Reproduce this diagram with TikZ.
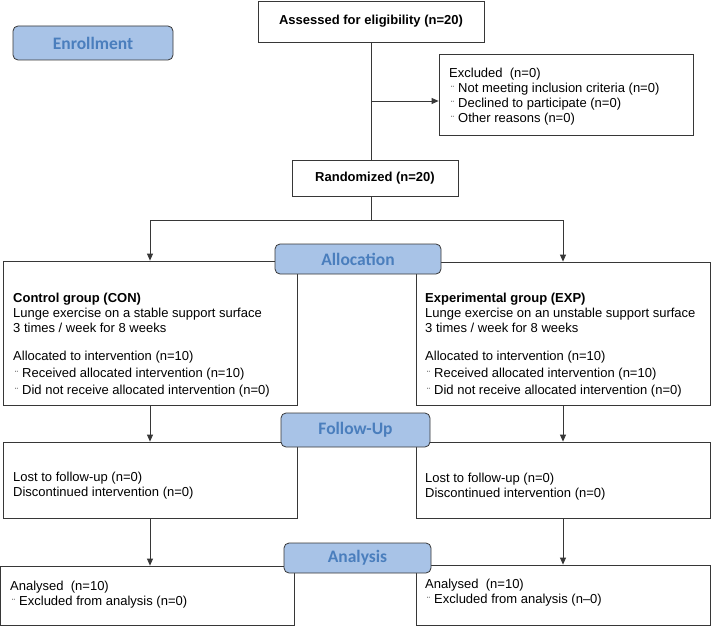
\documentclass[tikz,border=0pt]{standalone}
\usepackage{fontspec}
\setmainfont{Liberation Sans}
\newfontfamily\phasefont{Carlito}
\usetikzlibrary{arrows.meta,positioning,calc}
\definecolor{phfill}{RGB}{168,195,231}
\definecolor{phtext}{RGB}{74,126,189}
\definecolor{boxline}{RGB}{55,55,55}
\newcommand{\dotbul}{\hspace*{2pt}\makebox[7pt][l]{\fontsize{9}{9}\selectfont ¨}}
\tikzset{
  fbox/.style={draw=boxline, line width=0.8pt, inner sep=0pt, font=\fontsize{13}{15}\selectfont},
  txt/.style={anchor=north west, inner sep=0pt, align=left, font=\fontsize{13}{15}\selectfont},
  phase/.style={draw=boxline, line width=0.8pt, fill=phfill, rounded corners=5pt, text=phtext,
                font=\phasefont\fontsize{17.5}{20}\selectfont\bfseries, inner sep=0pt},
  conn/.style={draw=boxline, line width=0.8pt},
  arr/.style={conn, -{Triangle[length=7pt,width=6pt]}},
}
\begin{document}
\begin{tikzpicture}[x=1pt, y=-1pt]
\useasboundingbox (0,0) rectangle (712,626);
% Enrollment
\node[fbox, minimum width=226pt, minimum height=41pt, font=\fontsize{13}{15}\selectfont\bfseries] (assess) at (371,21.5) {Assessed for eligibility (n=20)};
\node[fbox, minimum width=254pt, minimum height=81pt] (excl) at (566,94.5) {};
\node[txt] (excltxt) at (449,67.5) {Excluded\ \ (n=0)\\ \dotbul Not meeting inclusion criteria (n=0)\\ \dotbul Declined to participate (n=0)\\ \dotbul Other reasons (n=0)};
\node[fbox, minimum width=166pt, minimum height=36pt, font=\fontsize{13}{15}\selectfont\bfseries] (rand) at (375,178) {Randomized (n=20)};
% Allocation
\node[fbox, minimum width=294pt, minimum height=144pt] (con) at (150,333) {};
\node[txt] (contxt) at (13,292.5) {\textbf{Control group (CON)}\\ Lunge exercise on a stable support surface\\ 3 times / week for 8 weeks\\[13pt]
  Allocated to intervention (n=10)\\[2pt] \dotbul Received allocated intervention (n=10)\\[2pt] \dotbul Did not receive allocated intervention (n=0)};
\node[fbox, minimum width=294pt, minimum height=143pt] (exp) at (563,333.5) {};
\node[txt] (exptxt) at (425,292.5) {\textbf{Experimental group (EXP)}\\ Lunge exercise on an unstable support surface\\ 3 times / week for 8 weeks\\[13pt]
  Allocated to intervention (n=10)\\[2pt] \dotbul Received allocated intervention (n=10)\\[2pt] \dotbul Did not receive allocated intervention (n=0)};
% Follow-up
\node[fbox, minimum width=294pt, minimum height=76pt] (fcon) at (150,480) {};
\node[txt] (fcontxt) at (13,471.5) {Lost to follow-up (n=0)\\ Discontinued intervention (n=0)};
\node[fbox, minimum width=294pt, minimum height=76pt] (fexp) at (563,480) {};
\node[txt] (fexptxt) at (425,472.5) {Lost to follow-up (n=0)\\ Discontinued intervention (n=0)};
% Analysis
\node[fbox, minimum width=294pt, minimum height=59pt] (acon) at (147,595.5) {};
\node[txt] (acontxt) at (10,580.5) {Analysed\ \ (n=10)\\ \dotbul Excluded from analysis (n=0)};
\node[fbox, minimum width=294pt, minimum height=60pt] (aexp) at (563,595) {};
\node[txt] (aexptxt) at (425,578.5) {Analysed\ \ (n=10)\\ \dotbul Excluded from analysis (n--0)};
% Connectors
\coordinate (exbr) at (371,101);
\coordinate (split) at (371,220);
\draw[conn] (assess.south) -- (assess.south |- rand.north);
\draw[arr] (exbr) -- (exbr -| excl.west);
\draw[conn] (split |- rand.south) -- (split);
\draw[arr] (split) -| (con.north);
\draw[arr] (split) -| (exp.north);
\draw[arr] (con.south) -- (fcon.north);
\draw[arr] (exp.south) -- (fexp.north);
\draw[arr] (fcon.south) -- (fcon.south |- acon.north);
\draw[arr] (fexp.south) -- (fexp.south |- aexp.north);
% Phase labels
\foreach \nm/\lbl/\cx/\cy/\w/\h in {enrol/Enrollment/93/43/160/34, alloc/Allocation/358/259/166/30,
  follow/Follow-Up/355.5/430/149/34, anal/Analysis/357.5/558/147/30}
  \node[phase, minimum width=\w pt, minimum height=\h pt] (\nm) at (\cx,\cy) {\lbl};
\end{tikzpicture}
\end{document}
